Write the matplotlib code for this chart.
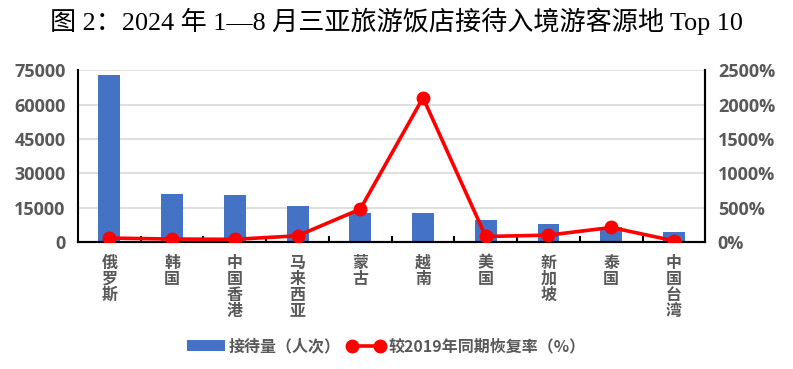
import matplotlib
matplotlib.use("Agg")
import matplotlib.pyplot as plt
import numpy as np
from matplotlib.ticker import FuncFormatter, FixedLocator

plt.rcParams['font.family'] = ['Noto Sans CJK SC', 'DejaVu Sans']

categories = ["俄罗斯", "韩国", "中国香港", "马来西亚", "蒙古", "越南", "美国", "新加坡", "泰国", "中国台湾"]
visitors = [72800, 21000, 20600, 15800, 12750, 12700, 9700, 7950, 6500, 4500]
recovery = [58, 44, 40, 91, 479, 2098, 81, 101, 212, 19]

left_ticks = [0, 15000, 30000, 45000, 60000, 75000]
right_ticks = [0, 500, 1000, 1500, 2000, 2500]

title = "图 2：2024 年 1—8 月三亚旅游饭店接待入境游客源地 Top 10"
bar_label = "接待量（人次）"
line_label = "较2019年同期恢复率（%）"

fig = plt.figure(figsize=(7.93, 3.69), dpi=100)
ax = fig.add_axes([0.0984, 0.344, 0.791, 0.466])
ax2 = ax.twinx()

x = np.arange(len(categories))
tick_color = "#595959"

ax.set_axisbelow(True)
ax.yaxis.grid(True, color="#d9d9d9", linewidth=1.2)
bars = ax.bar(x, visitors, width=0.35, color="#4472c4", label=bar_label, zorder=2)
ax.set_xlim(-0.5, len(categories) - 0.5)
ax.set_ylim(0, 75000)
ax.set_yticks(left_ticks)
ax.tick_params(axis='y', labelsize=13, labelcolor=tick_color, length=0, pad=9)
ax.yaxis.set_minor_locator(FixedLocator([left_ticks[-1]]))
ax.tick_params(axis='y', which='minor', length=5, width=1.5, direction='in', color='black')
for lab in ax.get_yticklabels():
    lab.set_fontweight('bold')
    lab.set_family(['Open Sans', 'DejaVu Sans'])

ax.set_xticks(x)
ax.set_xticklabels(["\n".join(c) for c in categories], fontsize=11.5, fontweight='bold',
                   color=tick_color, linespacing=1.0, va='top')
ax.tick_params(axis='x', length=0, pad=9)
ax.xaxis.set_minor_locator(FixedLocator(np.arange(0.5, len(categories) - 0.5, 1)))
ax.tick_params(axis='x', which='minor', length=4, width=1.5, direction='in', color='black')

ax2.set_ylim(0, 2500)
ax2.set_yticks(right_ticks)
ax2.yaxis.set_major_formatter(FuncFormatter(lambda v, p: f"{int(v)}%"))
ax2.tick_params(axis='y', labelsize=13, labelcolor=tick_color, length=0, pad=9)
ax2.yaxis.set_minor_locator(FixedLocator([right_ticks[-1]]))
ax2.tick_params(axis='y', which='minor', length=5, width=1.5, direction='in', color='black')
for lab in ax2.get_yticklabels():
    lab.set_fontweight('bold')
    lab.set_family(['Open Sans', 'DejaVu Sans'])
line, = ax2.plot(x, recovery, color="#ff0000", linewidth=2.6, marker='o', markersize=9,
                 label=line_label, zorder=3)

for a in (ax, ax2):
    a.spines['top'].set_visible(False)
    a.spines['left'].set_linewidth(1.5)
    a.spines['right'].set_linewidth(1.5)
    a.spines['bottom'].set_linewidth(1.5)
ax2.spines['left'].set_visible(False)

fig.text(0.5, 0.943, title, ha='center', va='center', fontsize=18.8,
         family=['Liberation Serif', 'Noto Sans CJK SC'])

leg = fig.legend([bars, line], [bar_label, line_label], loc='center', bbox_to_anchor=(0.487, 0.062),
                 ncol=2, frameon=False, numpoints=2, handlelength=2.4, columnspacing=0.4,
                 handletextpad=0.2, prop={'size': 11.5, 'weight': 'bold'})
for t in leg.get_texts():
    t.set_color(tick_color)

fig.savefig("out.png", dpi=100)
